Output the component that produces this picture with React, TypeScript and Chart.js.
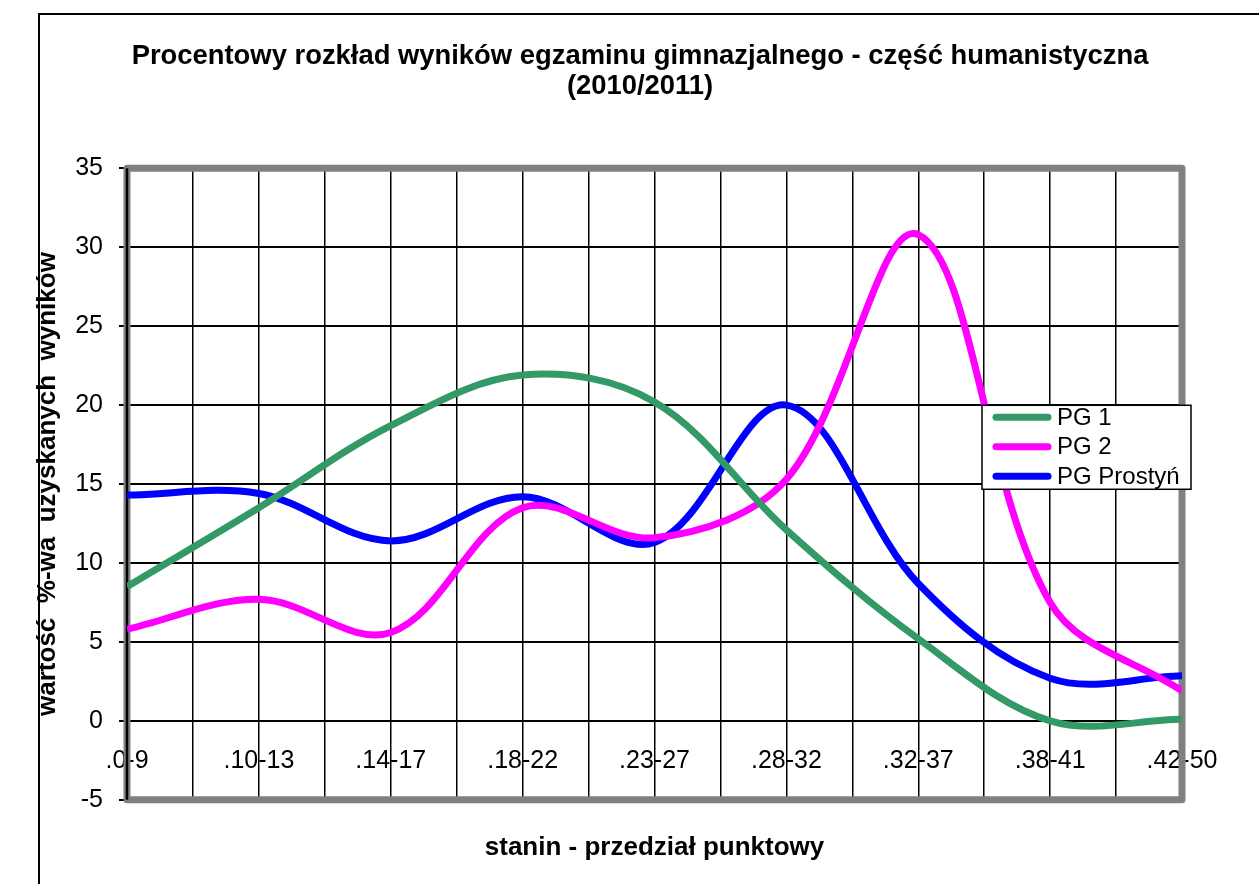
import React, { useEffect, useRef } from 'react';
import { Chart, registerables } from 'chart.js';

Chart.register(...registerables);

const categories = ['.0-9', '.10-13', '.14-17', '.18-22', '.23-27', '.28-32', '.32-37', '.38-41', '.42-50'];
const pg1Values = [8.5, 13.5, 18.7, 21.9, 20.2, 12.1, 5.2, 0.0, 0.1];
const pg2Values = [5.8, 7.7, 5.6, 13.5, 11.6, 15.3, 30.8, 7.5, 1.9];
const prostynValues = [14.3, 14.4, 11.4, 14.2, 11.3, 20.0, 8.7, 2.7, 2.85];
const seriesNames = ['PG 1', 'PG 2', 'PG Prostyń'];
const seriesColors = ['#339966', '#FF00FF', '#0000FF'];
const titleLines = ['Procentowy rozkład wyników egzaminu gimnazjalnego - część humanistyczna', '(2010/2011)'];
const xTitle = 'stanin - przedział punktowy';
const yTitle = 'wartość  %-wa  uzyskanych  wyników';
const yMin = -5;
const yMax = 35;
const yStep = 5;

const FONT = "'Liberation Sans', Arial, sans-serif";

export default function App() {
  const ref = useRef<HTMLCanvasElement>(null);

  useEffect(() => {
    if (!ref.current) return;
    const seriesValues = [pg1Values, pg2Values, prostynValues];
    const toPoints = (vals: number[]) => vals.map((y, i) => ({ x: i, y }));

    const framePlugin = {
      id: 'grayFrame',
      beforeDatasetsDraw(chart: any) {
        const { ctx, chartArea: a } = chart;
        ctx.save();
        ctx.strokeStyle = '#808080';
        ctx.lineWidth = 7;
        ctx.lineJoin = 'round';
        ctx.strokeRect(a.left, a.top, a.right - a.left, a.bottom - a.top);
        ctx.strokeStyle = '#000';
        ctx.lineWidth = 2.5;
        ctx.beginPath();
        ctx.moveTo(a.left, a.top);
        ctx.lineTo(a.left, a.bottom);
        ctx.stroke();
        ctx.restore();
      },
    };

    const legendPlugin = {
      id: 'boxLegend',
      afterDraw(chart: any) {
        const { ctx, chartArea: a } = chart;
        const w = 209;
        const h = 84;
        const x0 = a.right + 9 - w;
        const y0 = a.top + 237;
        ctx.save();
        ctx.fillStyle = '#fff';
        ctx.fillRect(x0, y0, w, h);
        ctx.strokeStyle = '#000';
        ctx.lineWidth = 1.5;
        ctx.strokeRect(x0, y0, w, h);
        chart.data.datasets.forEach((ds: any, i: number) => {
          const cy = y0 + 12 + i * 29.5;
          ctx.strokeStyle = ds.borderColor;
          ctx.lineWidth = 7;
          ctx.lineCap = 'round';
          ctx.beginPath();
          ctx.moveTo(x0 + 14, cy);
          ctx.lineTo(x0 + 66, cy);
          ctx.stroke();
          ctx.fillStyle = '#000';
          ctx.font = `24px ${FONT}`;
          ctx.textBaseline = 'middle';
          ctx.textAlign = 'left';
          ctx.fillText(ds.label, x0 + 75, cy + 1);
        });
        ctx.restore();
      },
    };

    const chart = new Chart(ref.current, {
      type: 'line',
      data: {
        datasets: seriesNames.map((name, i) => ({
          label: name,
          data: toPoints(seriesValues[i]),
          borderColor: seriesColors[i],
          backgroundColor: seriesColors[i],
          borderWidth: 7,
          pointRadius: 0,
          tension: 0.35,
          fill: false,
          yAxisID: 'y',
        })),
      },
      options: {
        responsive: false,
        animation: false,
        devicePixelRatio: 1,
        layout: { padding: { left: 72, right: 51, top: 0, bottom: 0 } },
        plugins: {
          legend: { display: false },
          tooltip: { enabled: false },
          title: {
            display: true,
            text: titleLines,
            color: '#000',
            fullSize: true,
            font: { family: FONT, size: 27.4, weight: 'bold', lineHeight: 1.1 },
            padding: { top: 41, bottom: 67 },
          },
          subtitle: {
            display: true,
            position: 'bottom',
            text: xTitle,
            color: '#000',
            fullSize: false,
            font: { family: FONT, size: 26, weight: 'bold', lineHeight: 1.2 },
            padding: { top: 32, bottom: 21 },
          },
        },
        scales: {
          x: {
            type: 'linear',
            position: { y: 0 },
            min: 0,
            max: categories.length - 1,
            ticks: {
              stepSize: 0.5,
              autoSkip: false,
              maxRotation: 0,
              minRotation: 0,
              color: '#000',
              font: { family: FONT, size: 25 },
              padding: 25,
              callback: (v: any) => (Number.isInteger(v) ? categories[v] : ''),
            },
            grid: { color: '#000', lineWidth: 1.5, drawTicks: false },
            border: { display: false },
          },
          y: {
            position: 'left',
            min: yMin,
            max: yMax,
            ticks: {
              stepSize: yStep,
              color: '#000',
              font: { family: FONT, size: 25 },
              padding: 16,
            },
            grid: { color: '#000', lineWidth: 2, drawTicks: true, tickLength: 8 },
            border: { display: false },
            title: {
              display: true,
              text: yTitle,
              color: '#000',
              font: { family: FONT, size: 26, weight: 'bold', lineHeight: 1.2 },
              padding: { top: -40, bottom: 0 },
            },
            afterFit: (s: any) => {
              s.width = 55;
            },
          },
          yRight: {
            position: 'right',
            min: yMin,
            max: yMax,
            ticks: { display: false },
            grid: { display: false, drawTicks: false },
            border: { display: false },
            afterFit: (s: any) => {
              s.width = 26;
            },
          },
        },
      },
      plugins: [framePlugin, legendPlugin],
    } as any);

    return () => chart.destroy();
  }, []);

  return (
    <div style={{ position: 'fixed', left: 0, top: 0, width: 1259, height: 884, overflow: 'hidden', background: '#fff' }}>
      <div
        style={{
          position: 'absolute',
          left: 38,
          top: 13,
          width: 1300,
          height: 900,
          border: '2px solid #000',
          boxSizing: 'border-box',
        }}
      />
      <canvas ref={ref} width={1259} height={884} style={{ position: 'absolute', left: 0, top: 0, width: 1259, height: 884 }} />
    </div>
  );
}
